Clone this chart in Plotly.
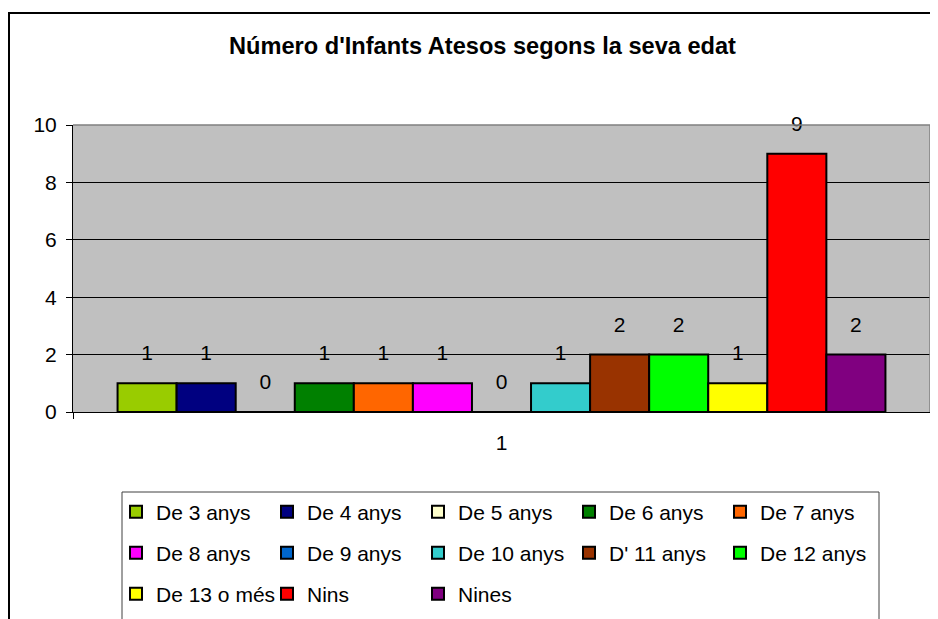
import plotly.graph_objects as go

# ---- data ----
category = ["1"]
series_names = ["De 3 anys", "De 4 anys", "De 5 anys", "De 6 anys", "De 7 anys",
                "De 8 anys", "De 9 anys", "De 10 anys", "D' 11 anys", "De 12 anys",
                "De 13 o més", "Nins", "Nines"]
series_values = [1, 1, 0, 1, 1, 1, 0, 1, 2, 2, 1, 9, 2]
series_colors = ["#99CC00", "#000080", "#FFFFCC", "#008000", "#FF6600",
                 "#FF00FF", "#0066CC", "#33CCCC", "#993300", "#00FF00",
                 "#FFFF00", "#FF0000", "#800080"]
y_ticks = [0, 2, 4, 6, 8, 10]
title_text = "Número d'Infants Atesos segons la seva edat"

FONT = "Liberation Sans, Arial, sans-serif"
OFF = 8                      # default page body margin
W, H = 938 - OFF, 619 - OFF
ML, MR, MT, MB = 73 - OFF, 8, 125 - OFF, 207
PW, PH = W - ML - MR, H - MT - MB
PLOT_L, PLOT_B = 73, 412      # page pixel positions of plot area


def px_x(p):          # page px -> paper x
    return (p - PLOT_L) / PW


def px_y(p):          # page px -> paper y
    return (PLOT_B - p) / PH


def cx(p):            # page px -> container x
    return (p - OFF) / W


def cy(p):            # page px -> container y
    return 1 - (p - OFF) / H


legend_ids = ["legend"] * 5 + ["legend2"] * 5 + ["legend3"] * 3

fig = go.Figure()
for name, val, col, lg in zip(series_names, series_values, series_colors, legend_ids):
    fig.add_trace(go.Bar(
        x=category, y=[val], name=name,
        marker=dict(color=col, line=dict(color="black", width=2)),
        text=[val],
        texttemplate="<span style='font-size:21px'>%{text}</span><br> ",
        textposition="outside",
        textfont=dict(family=FONT, size=13, color="black"),
        cliponaxis=False,
        legend=lg,
    ))

row_y = [512, 553, 594]
leg_common = dict(orientation="h", entrywidth=106, entrywidthmode="pixels",
                  xref="paper", yref="container", xanchor="left", yanchor="middle",
                  x=px_x(136 - 20), bgcolor="rgba(0,0,0,0)", borderwidth=0,
                  font=dict(family=FONT, size=21, color="black"), traceorder="normal")

fig.update_layout(
    width=W, height=H,
    margin=dict(l=ML, r=MR, t=MT, b=MB),
    paper_bgcolor="white", plot_bgcolor="#C0C0C0",
    barmode="group", bargap=0.104, bargroupgap=0,
    title=dict(text="<b>" + title_text + "</b>", x=cx(482.5), xanchor="center",
               y=cy(46), yanchor="middle", xref="container", yref="container",
               font=dict(family=FONT, size=23.6, color="black")),
    font=dict(family=FONT, size=21, color="black"),
    legend=dict(leg_common, y=cy(row_y[0])),
    legend2=dict(leg_common, y=cy(row_y[1])),
    legend3=dict(leg_common, y=cy(row_y[2])),
    xaxis=dict(type="category", range=[-0.5, 0.5], showline=True, linecolor="black",
               linewidth=1, ticks="outside", tickson="boundaries", ticklen=6,
               tickcolor="black", showgrid=False, ticklabelstandoff=12,
               tickfont=dict(family=FONT, size=21, color="black")),
    yaxis=dict(range=[0, 10], tickvals=y_ticks, showline=True, linecolor="black",
               linewidth=1, ticks="outside", ticklen=6, tickcolor="black",
               showgrid=True, gridcolor="black", gridwidth=1, zeroline=False,
               ticklabelstandoff=5,
               tickfont=dict(family=FONT, size=21, color="black")),
    shapes=[
        # plot area top/right border
        dict(type="path", path="M 0,1 L 1,1 L 1,0", xref="paper", yref="paper",
             line=dict(color="#808080", width=1.5), layer="above"),
        # legend box
        dict(type="rect", xref="paper", yref="paper",
             x0=px_x(122), x1=px_x(879), y0=px_y(492), y1=px_y(660),
             line=dict(color="#404040", width=1), fillcolor="rgba(0,0,0,0)", layer="below"),
        # outer chart border
        dict(type="rect", xref="paper", yref="paper",
             x0=px_x(9), x1=px_x(960), y0=px_y(13), y1=px_y(680),
             line=dict(color="black", width=2), fillcolor="rgba(0,0,0,0)", layer="below"),
    ],
)

fig.write_html("out.html")
